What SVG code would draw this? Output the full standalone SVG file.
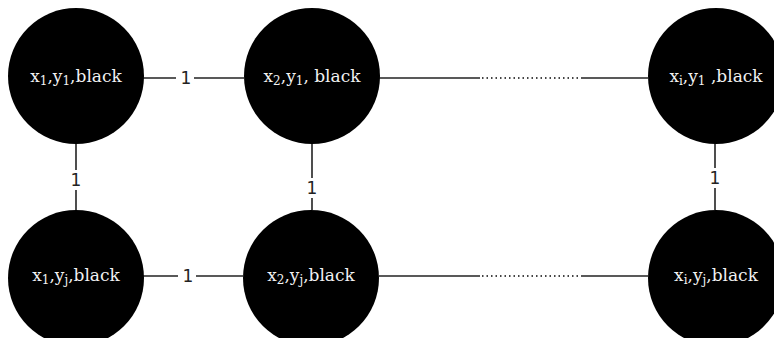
<svg xmlns="http://www.w3.org/2000/svg" width="774" height="338" viewBox="0 0 774 338">
<style>
.node{fill:#000}
.nt{font-family:"DejaVu Serif","Liberation Serif",serif;font-size:17px;fill:#f2f2f2;text-anchor:middle}
.sub{font-size:12px}
.edge{stroke:#222;stroke-width:1.6;fill:none}
.dot{stroke:#444;stroke-width:1.8;stroke-dasharray:1.5 3;fill:none}
.lbl{font-family:"DejaVu Sans","Liberation Sans",sans-serif;font-size:17px;fill:#222;text-anchor:middle}
</style>
<rect width="774" height="338" fill="#fff"/>
<g id="connectors">
<line class="edge" x1="143" y1="78" x2="176" y2="78"/>
<line class="edge" x1="194" y1="78" x2="244" y2="78"/>
<text class="lbl" x="186" y="84">1</text>
<line class="edge" x1="143" y1="276" x2="178" y2="276"/>
<line class="edge" x1="196" y1="276" x2="243" y2="276"/>
<text class="lbl" x="188" y="282">1</text>
<line class="edge" x1="379" y1="78" x2="480" y2="78"/>
<line class="dot" x1="482" y1="78" x2="580" y2="78"/>
<line class="edge" x1="581" y1="78" x2="648" y2="78"/>
<line class="edge" x1="379" y1="276" x2="480" y2="276"/>
<line class="dot" x1="482" y1="276" x2="580" y2="276"/>
<line class="edge" x1="581" y1="276" x2="648" y2="276"/>
<line class="edge" x1="76" y1="143" x2="76" y2="170"/>
<line class="edge" x1="76" y1="190" x2="76" y2="210"/>
<text class="lbl" x="76" y="186">1</text>
<line class="edge" x1="312" y1="143" x2="312" y2="178"/>
<line class="edge" x1="312" y1="198" x2="312" y2="210"/>
<text class="lbl" x="312" y="194">1</text>
<line class="edge" x1="715" y1="143" x2="715" y2="168"/>
<line class="edge" x1="715" y1="188" x2="715" y2="210"/>
<text class="lbl" x="715" y="184">1</text>
</g>
<g id="n11"><circle class="node" cx="76" cy="76" r="68"/><text class="nt" x="76" y="82">x<tspan class="sub" dy="3">1</tspan><tspan dy="-3">,y</tspan><tspan class="sub" dy="3">1</tspan><tspan dy="-3">,black</tspan></text></g>
<g id="n21"><circle class="node" cx="312" cy="76" r="68"/><text class="nt" x="312" y="82">x<tspan class="sub" dy="3">2</tspan><tspan dy="-3">,y</tspan><tspan class="sub" dy="3">1</tspan><tspan dy="-3">, black</tspan></text></g>
<g id="ni1"><circle class="node" cx="716" cy="76" r="68"/><text class="nt" x="716" y="82">x<tspan class="sub" dy="3">i</tspan><tspan dy="-3">,y</tspan><tspan class="sub" dy="3">1</tspan><tspan dy="-3"> ,black</tspan></text></g>
<g id="n1j"><circle class="node" cx="76" cy="278" r="68"/><text class="nt" x="76" y="281">x<tspan class="sub" dy="3">1</tspan><tspan dy="-3">,y</tspan><tspan class="sub" dy="3">j</tspan><tspan dy="-3">,black</tspan></text></g>
<g id="n2j"><circle class="node" cx="311" cy="278" r="68"/><text class="nt" x="311" y="281">x<tspan class="sub" dy="3">2</tspan><tspan dy="-3">,y</tspan><tspan class="sub" dy="3">j</tspan><tspan dy="-3">,black</tspan></text></g>
<g id="nij"><circle class="node" cx="716" cy="278" r="68"/><text class="nt" x="716" y="281">x<tspan class="sub" dy="3">i</tspan><tspan dy="-3">,y</tspan><tspan class="sub" dy="3">j</tspan><tspan dy="-3">,black</tspan></text></g>
</svg>
